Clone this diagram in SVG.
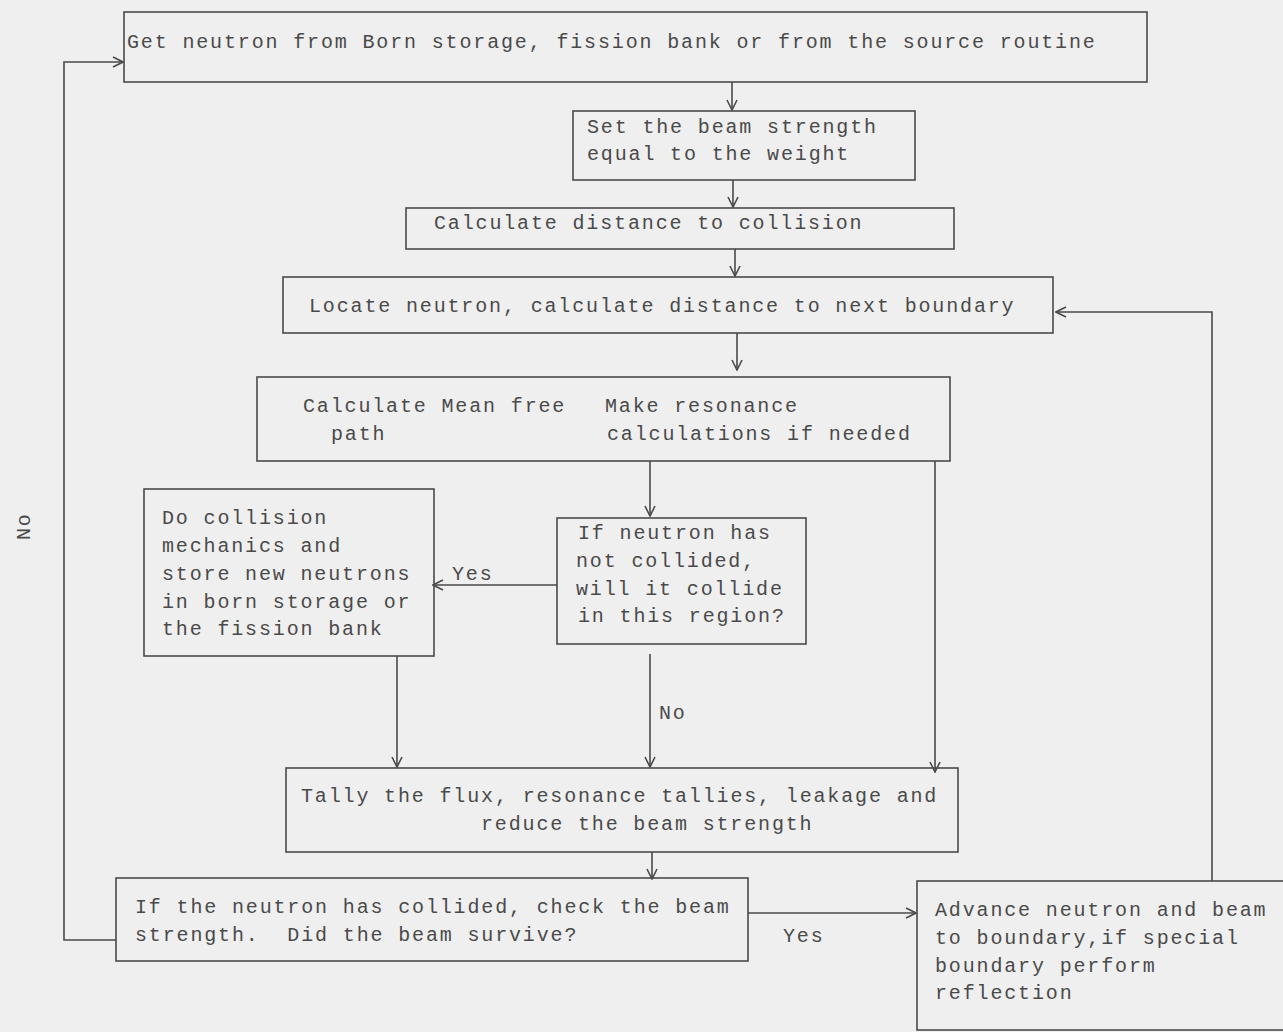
<svg xmlns="http://www.w3.org/2000/svg" width="1283" height="1032" viewBox="0 0 1283 1032">
<defs>
<style>
.box{fill:none;stroke:#4a4a4a;stroke-width:1.6}
.ln{fill:none;stroke:#4a4a4a;stroke-width:1.6}
text{font-family:"Liberation Mono","DejaVu Sans Mono",monospace;font-size:20px;fill:#4a4a4a;letter-spacing:1.85px}
</style>
<marker id="ah" viewBox="0 0 12 12" refX="11" refY="6" markerWidth="12" markerHeight="12" markerUnits="userSpaceOnUse" orient="auto">
<path d="M1,1 L11,6 L1,11" fill="none" stroke="#4a4a4a" stroke-width="1.6"/>
</marker>
</defs>
<rect width="1283" height="1032" fill="#efefef"/>
<g id="connectors">
<line class="ln" x1="732" y1="82" x2="732" y2="110" marker-end="url(#ah)"/>
<line class="ln" x1="733" y1="180" x2="733" y2="207" marker-end="url(#ah)"/>
<line class="ln" x1="735" y1="249" x2="735" y2="276" marker-end="url(#ah)"/>
<line class="ln" x1="737" y1="333" x2="737" y2="370" marker-end="url(#ah)"/>
<line class="ln" x1="650" y1="461" x2="650" y2="516" marker-end="url(#ah)"/>
<line class="ln" x1="935" y1="461" x2="935" y2="772" marker-end="url(#ah)"/>
<line class="ln" x1="557" y1="585" x2="433" y2="585" marker-end="url(#ah)"/>
<line class="ln" x1="397" y1="656" x2="397" y2="767" marker-end="url(#ah)"/>
<line class="ln" x1="650" y1="654" x2="650" y2="767" marker-end="url(#ah)"/>
<line class="ln" x1="652" y1="852" x2="652" y2="879" marker-end="url(#ah)"/>
<line class="ln" x1="748" y1="913" x2="916" y2="913" marker-end="url(#ah)"/>
<polyline class="ln" points="1212,881 1212,312 1056,312" marker-end="url(#ah)"/>
<polyline class="ln" points="116,940 64,940 64,62 123,62" marker-end="url(#ah)"/>
<text x="452" y="580">Yes</text>
<text x="659" y="719">No</text>
<text x="783" y="942">Yes</text>
<text transform="translate(30,540) rotate(-90)">No</text>
</g>
<g id="n1">
<rect class="box" x="124" y="12" width="1023" height="70"/>
<text x="127" y="48">Get neutron from Born storage, fission bank or from the source routine</text>
</g>
<g id="n2">
<rect class="box" x="573" y="111" width="342" height="69"/>
<text x="587" y="133">Set the beam strength</text>
<text x="587" y="160">equal to the weight</text>
</g>
<g id="n3">
<rect class="box" x="406" y="208" width="548" height="41"/>
<text x="434" y="229">Calculate distance to collision</text>
</g>
<g id="n4">
<rect class="box" x="283" y="277" width="770" height="56"/>
<text x="309" y="312">Locate neutron, calculate distance to next boundary</text>
</g>
<g id="n5">
<rect class="box" x="257" y="377" width="693" height="84"/>
<text x="303" y="412">Calculate Mean free</text>
<text x="331" y="440">path</text>
<text x="605" y="412">Make resonance</text>
<text x="607" y="440">calculations if needed</text>
</g>
<g id="n6">
<rect class="box" x="557" y="518" width="249" height="126"/>
<text x="578" y="539">If neutron has</text>
<text x="576" y="567">not collided,</text>
<text x="576" y="595">will it collide</text>
<text x="578" y="622">in this region?</text>
</g>
<g id="n7">
<rect class="box" x="144" y="489" width="290" height="167"/>
<text x="162" y="524">Do collision</text>
<text x="162" y="552">mechanics and</text>
<text x="162" y="580">store new neutrons</text>
<text x="162" y="608">in born storage or</text>
<text x="162" y="635">the fission bank</text>
</g>
<g id="n8">
<rect class="box" x="286" y="768" width="672" height="84"/>
<text x="301" y="802">Tally the flux, resonance tallies, leakage and</text>
<text x="481" y="830">reduce the beam strength</text>
</g>
<g id="n9">
<rect class="box" x="116" y="878" width="632" height="83"/>
<text x="135" y="913">If the neutron has collided, check the beam</text>
<text x="135" y="941">strength.&#160; Did the beam survive?</text>
</g>
<g id="n10">
<rect class="box" x="917" y="881" width="380" height="149"/>
<text x="935" y="916">Advance neutron and beam</text>
<text x="935" y="944">to boundary,if special</text>
<text x="935" y="972">boundary perform</text>
<text x="935" y="999">reflection</text>
</g>
</svg>
